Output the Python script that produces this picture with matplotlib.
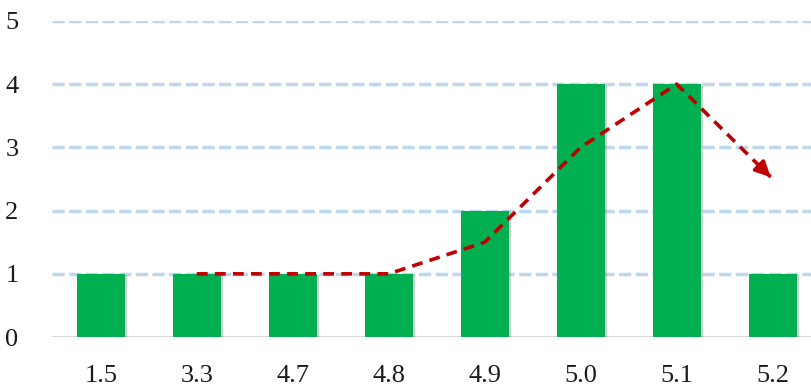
import matplotlib.pyplot as plt
import matplotlib.patheffects as pe

categories = ['1.5', '3.3', '4.7', '4.8', '4.9', '5.0', '5.1', '5.2']
counts = [1, 1, 1, 1, 2, 4, 4, 1]

# trend line (category position, value), last point is the arrow tip
trend_x = [1, 3, 4, 5, 6, 6.98]
trend_y = [1, 1, 1.5, 3, 4, 2.53]

plt.rcParams['font.family'] = ['Liberation Serif', 'DejaVu Serif']

fig = plt.figure(figsize=(8.11, 3.87), dpi=100)
ax = fig.add_axes([0.064, 0.129, 0.936, 0.817])

x = range(len(categories))
bars = ax.bar(x, counts, width=0.5, color='#00B050', zorder=3)
for b in bars:
    b.set_path_effects([pe.SimplePatchShadow(offset=(1.5, -1), shadow_rgbFace='#777777', alpha=0.35), pe.Normal()])

ax.plot(trend_x, trend_y, color='#C00000', lw=2.6, ls=(0, (3, 2)), zorder=4,
        dash_capstyle='butt', dash_joinstyle='round')
ax.annotate('', xy=(trend_x[-1], trend_y[-1]),
            xytext=(trend_x[-1] - 0.12, trend_y[-1] + 0.18),
            arrowprops=dict(arrowstyle='-|>,head_length=0.9,head_width=0.45',
                            color='#C00000', lw=2.6, shrinkA=0, shrinkB=0),
            zorder=5)

ax.set_xlim(-0.51, 7.4)
ax.set_ylim(0, 5)
ax.set_yticks(range(6))
ax.set_xticks(list(x))
ax.set_xticklabels(categories)

for y in range(1, 6):
    ax.axhline(y, color='#BDD7EE', lw=2.5, ls=(0, (3.5, 1.3)), zorder=1)
ax.axhline(0, color='#D9D9D9', lw=1.5, zorder=2)

for s in ax.spines.values():
    s.set_visible(False)
ax.tick_params(axis='both', length=0, labelsize=19, colors='#1a1a1a')
ax.tick_params(axis='y', pad=24)
ax.tick_params(axis='x', pad=20)

fig.savefig('out.png', dpi=100)
